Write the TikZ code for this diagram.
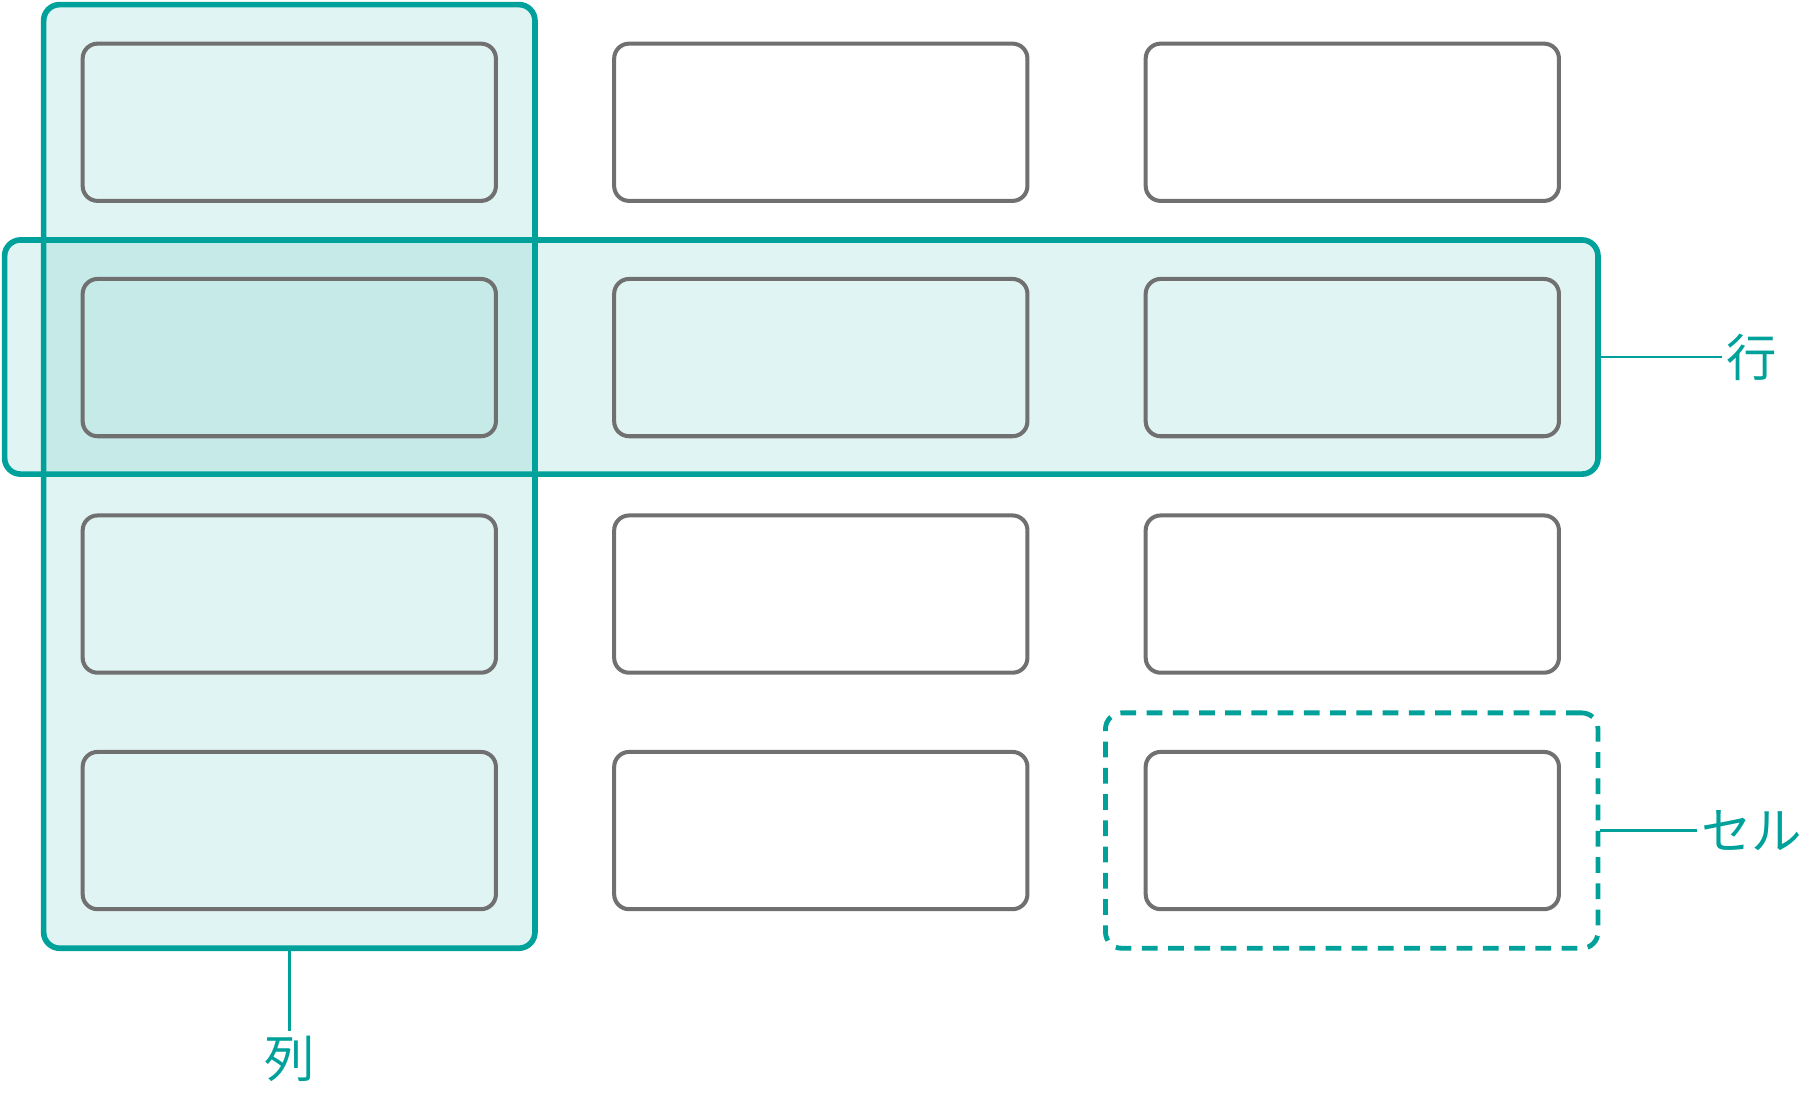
\documentclass[tikz,border=0pt]{standalone}
\usepackage{fontspec}
\newfontfamily\jpfont{Noto Sans CJK JP}
\definecolor{teal}{RGB}{0,161,154}
\definecolor{cellgray}{RGB}{112,112,112}
\tikzset{
  cell/.style={draw=cellgray, line width=1pt, rounded corners=0.13cm,
    minimum width=3.6cm, minimum height=1.37cm, inner sep=0pt},
  band/.style={draw=teal, line width=1.4pt, rounded corners=0.14cm,
    fill=teal, fill opacity=0.12, draw opacity=1, inner sep=0pt},
  pick/.style={draw=teal, line width=1.2pt, rounded corners=0.14cm,
    dash pattern=on 3.9pt off 2.6pt, inner sep=0pt},
  lbl/.style={text=teal, font=\jpfont\fontsize{12.5}{12.5}\selectfont, inner sep=1pt},
  lead/.style={draw=teal, line width=0.7pt}
}
\begin{document}
\begin{tikzpicture}
            \useasboundingbox (0,0) rectangle (15.68,-9.55);
            \node[band, minimum width=4.28cm, minimum height=8.22cm] (col) at (2.52,-4.15) {};
            \node[band, minimum width=13.88cm, minimum height=2.04cm] (row) at (6.98,-3.11) {};

            \node[cell] (c11) at (2.52,-1.065) {};
            \node[cell] (c12) at (7.15,-1.065) {};
            \node[cell] (c13) at (11.78,-1.065) {};
            \node[cell] (c21) at (2.52,-3.115) {};
            \node[cell] (c22) at (7.15,-3.115) {};
            \node[cell] (c23) at (11.78,-3.115) {};
            \node[cell] (c31) at (2.52,-5.175) {};
            \node[cell] (c32) at (7.15,-5.175) {};
            \node[cell] (c33) at (11.78,-5.175) {};
            \node[cell] (c41) at (2.52,-7.235) {};
            \node[cell] (c42) at (7.15,-7.235) {};
            \node[cell] (c43) at (11.78,-7.235) {};

            \node[pick, minimum width=4.29cm, minimum height=2.05cm] (sel) at (11.775,-7.235) {};

            \node[lbl, anchor=west] (lrow) at (15.0,-3.11) {行};
            \draw[lead] (row.east) -- (lrow.west);
            \node[lbl, anchor=west] (lsel) at (14.78,-7.235) {セル};
            \draw[lead] (sel.east) -- (lsel.west);
            \node[lbl, anchor=north] (lcol) at (2.52,-8.98) {列};
            \draw[lead] (col.south) -- (lcol.north);
        \end{tikzpicture}
\end{document}
